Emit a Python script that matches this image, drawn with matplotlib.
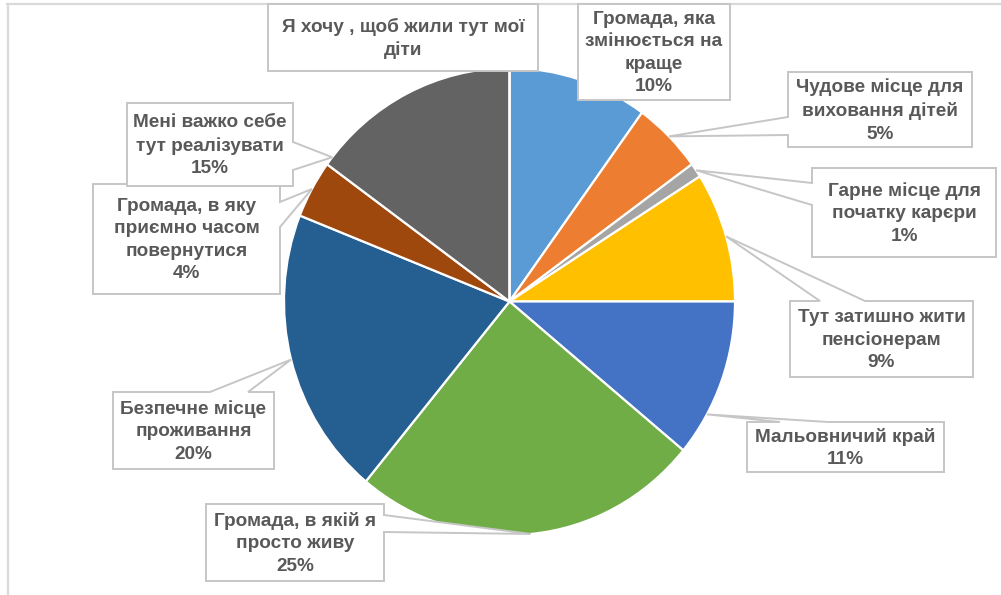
import matplotlib
matplotlib.use("Agg")
import matplotlib.pyplot as plt
import numpy as np
from matplotlib.patches import Polygon
from matplotlib.lines import Line2D

# ---- data ----
labels = [
    "Громада, яка\nзмінюється на\nкраще",
    "Чудове місце для\nвиховання дітей",
    "Гарне місце для\nпочатку карєри",
    "Тут затишно жити\nпенсіонерам",
    "Мальовничий край",
    "Громада, в якій я\nпросто живу",
    "Безпечне місце\nпроживання",
    "Громада, в яку\nприємно часом\nповернутися",
    "Мені важко себе\nтут реалізувати",
    "Я хочу , щоб жили тут мої\nдіти",
]
values = [10, 5, 1, 9, 11, 25, 20, 4, 15, 0]
show_pct = [True, True, True, True, True, True, True, True, True, False]
colors = ["#5B9BD5", "#ED7D31", "#A5A5A5", "#FFC000", "#4472C4",
          "#70AD47", "#255E91", "#9E480E", "#636363", "#997300"]

# ---- layout (pixels, y downward) ----
W, H = 1001, 595
cx, cy, rx, ry = 509.5, 301.5, 225.5, 233.5
# box: left, top, right, bottom ; callout side and base span ; tip fraction within slice
boxes = [
    (578, 4, 730, 100, None, None, 0.5),
    (788, 72, 972, 147, "left", (117, 135), 0.5),
    (812, 168, 996, 257, "left", (183, 205), 0.5),
    (790, 301, 973, 377, "top", (820, 865), 0.5),
    (747, 422, 944, 472, "top", (780, 828), 0.73),
    (206, 504, 384, 581, "right", (515, 532), 0.5),
    (113, 392, 274, 469, "top", (210, 248), 0.5),
    (93, 184, 280, 294, "right", (202, 227), 0.5),
    (127, 103, 293, 186, "right", (142, 170), 0.04),
    (268, 4, 538, 71, None, None, 0.5),
]

fig = plt.figure(figsize=(W / 100, H / 100), dpi=100)
fig.patch.set_facecolor("white")

# pie axes (slightly elliptical like the reference)
m = 1.1
axp = fig.add_axes([(cx - m * rx) / W, (H - (cy + m * ry)) / H, 2 * m * rx / W, 2 * m * ry / H])
axp.pie(values, colors=colors, startangle=90, counterclock=False,
        wedgeprops=dict(edgecolor="white", linewidth=1.6))
axp.set_xlim(-m, m)
axp.set_ylim(-m, m)
axp.set_aspect("auto")
axp.axis("off")

# overlay axes in pixel coordinates
ax = fig.add_axes([0, 0, 1, 1], zorder=5)
ax.set_xlim(0, W)
ax.set_ylim(H, 0)
ax.axis("off")
ax.patch.set_alpha(0)

total = float(sum(values))
cum = np.concatenate([[0], np.cumsum(values)])
edge = "#C6C6C6"
for i, (lab, v) in enumerate(zip(labels, values)):
    l, t, r, b, side, base, frac = boxes[i]
    theta = np.deg2rad(90 - 360 * (cum[i] + frac * v) / total)
    tx, ty = cx + rx * np.cos(theta), cy - ry * np.sin(theta)
    if side is None:
        pts = [(l, t), (r, t), (r, b), (l, b)]
    elif side == "left":
        pts = [(l, t), (r, t), (r, b), (l, b), (l, base[1]), (tx, ty), (l, base[0])]
    elif side == "right":
        pts = [(l, t), (r, t), (r, base[0]), (tx, ty), (r, base[1]), (r, b), (l, b)]
    elif side == "top":
        pts = [(l, t), (base[0], t), (tx, ty), (base[1], t), (r, t), (r, b), (l, b)]
    ax.add_patch(Polygon(pts, closed=True, facecolor="white", edgecolor=edge,
                         linewidth=1.4, joinstyle="miter"))
    txt = lab + (f"\n{v}%" if show_pct[i] else "")
    ax.text((l + r) / 2, (t + b) / 2 + 1, txt, ha="center", va="center",
            fontsize=13.7, fontweight="bold", color="#595959",
            family=["Liberation Sans", "DejaVu Sans"], linespacing=1.42)

# chart frame fragments (top and left)
fig.add_artist(Line2D([7 / W, 1], [1 - 4 / H, 1 - 4 / H], color="#D9D9D9", linewidth=1.6))
fig.add_artist(Line2D([8 / W, 8 / W], [0, 1 - 4 / H], color="#D9D9D9", linewidth=1.6))

fig.savefig("out.png", dpi=100, facecolor="white")
